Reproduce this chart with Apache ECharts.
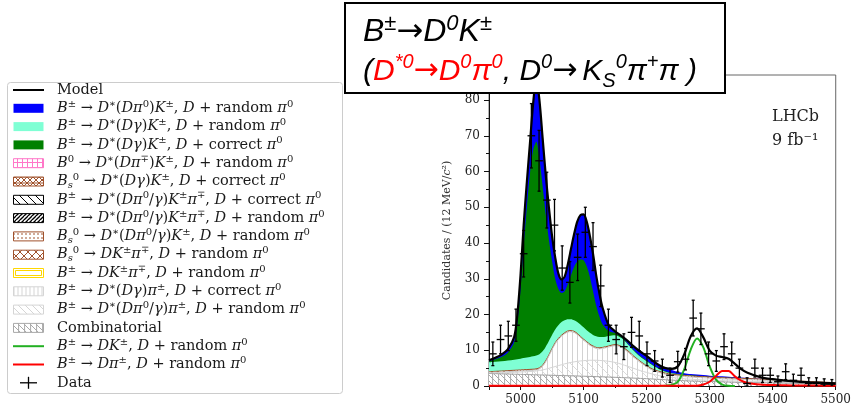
<!DOCTYPE html>
<html>
<head>
<meta charset="utf-8">
<script src="https://cdn.jsdelivr.net/npm/echarts@6/dist/echarts.min.js"></script>
<style>
  html, body { margin: 0; background: #fff; }
  #chart { width: 854px; height: 410px; }
</style>
</head>
<body>
<div id="chart"></div>
<script>
// ---- data ----
// fit components, cumulative tops (each band is drawn over the one above it)
const massGrid = [4950,4960,4970,4980,4990,4995,5000,5005,5010,5015,5020,5025,5030,5035,5040,5045,5050,5055,5060,5065,
  5070,5075,5080,5085,5090,5095,5100,5105,5110,5115,5120,5125,5130,5140,5150,5160,5170,5180,5190,5200,
  5210,5220,5230,5240,5250,5260,5270,5280,5290,5300,5310,5320,5330,5340,5350,5360,5380,5400,5420,5440,5460,5480,5500];

const blueTop = [7.2,7.9,8.8,10.3,13.8,20,31,45,57,68,79,86,80,69.5,59,50,42,36,31.5,29.8,
  30.6,34,38.3,42.5,46,47.8,48,46,42,37,31,26,22,17,15.3,14.0,12.6,11.0,9.6,8.4,
  7.0,5.8,5.0,4.5,3.9,3.6,3.35,3.2,3.05,2.9,2.8,2.7,2.6,2.5,2.4,2.3,2.0,1.75,1.5,1.3,1.1,0.95,0.8];

const greenTop = [6.9,7.5,8.2,9.4,12.3,17.5,27,39,50,59.5,66,68.3,63.5,56,48,41,35,30,27.2,26,
  26.5,28.5,31,33.3,34.8,35.4,35.2,33.5,30.5,26.5,22.5,19.5,17.3,15.4,14.8,13.7,11.9,10.0,8.4,7.1,
  5.9,4.9,4.1,3.65,3.35,3.15,3.0,2.85,2.7,2.6,2.5,2.4,2.3,2.25,2.2,2.1,1.9,1.7,1.5,1.3,1.1,0.95,0.8];

const cyanTop = [6.6,6.75,6.9,7.1,7.35,7.5,7.65,7.8,7.95,8.1,8.3,8.5,8.9,9.7,11.0,12.6,14.3,15.8,17.0,17.9,
  18.4,18.7,18.7,18.4,17.9,17.2,16.4,15.6,14.9,14.3,13.9,13.7,13.7,14.0,14.2,13.4,11.7,9.8,8.2,6.9,
  5.7,4.7,4.0,3.55,3.25,3.05,2.9,2.75,2.6,2.5,2.4,2.3,2.2,2.15,2.1,2.0,1.85,1.65,1.45,1.25,1.05,0.9,0.75];

const bsTop = [4.0,4.1,4.2,4.3,4.4,4.45,4.5,4.55,4.6,4.65,4.7,4.8,5.1,5.8,7.1,8.7,10.5,12.1,13.3,14.2,
  14.9,15.4,15.5,15.3,14.7,13.9,13.1,12.4,11.7,11.2,10.8,10.7,10.8,11.2,11.6,11.1,9.9,8.3,6.9,5.7,
  4.7,4.1,3.6,3.3,3.1,2.95,2.8,2.7,2.6,2.5,2.4,2.3,2.25,2.2,2.15,2.1,1.95,1.8,1.6,1.4,1.25,1.1,0.9];

const greyTop = [3.7,3.8,3.9,4.0,4.1,4.15,4.2,4.25,4.3,4.35,4.4,4.5,4.8,5.5,6.8,8.4,10.2,11.8,13.0,13.9,
  14.6,15.1,15.2,15.0,14.4,13.6,12.8,12.1,11.4,10.9,10.5,10.4,10.5,10.9,11.3,10.8,9.6,8.0,6.6,5.4,
  4.4,3.8,3.3,3.0,2.8,2.65,2.5,2.4,2.3,2.2,2.1,2.0,1.95,1.9,1.85,1.8,1.65,1.5,1.3,1.15,1.0,0.85,0.7];

const diagTop = [3.6,3.65,3.7,3.75,3.8,3.85,3.9,3.95,4.0,4.05,4.1,4.2,4.35,4.5,4.7,4.95,5.2,5.45,5.7,5.95,
  6.2,6.4,6.6,6.75,6.9,7.0,7.1,7.15,7.2,7.2,7.2,7.15,7.1,6.9,6.6,6.1,5.5,4.9,4.3,3.8,
  3.3,2.9,2.6,2.4,2.2,2.0,1.9,1.8,1.7,1.6,1.55,1.5,1.45,1.4,1.35,1.3,1.2,1.1,1.0,0.9,0.8,0.7,0.6];

const combTop = [3.5,3.45,3.4,3.35,3.3,3.28,3.25,3.22,3.2,3.18,3.15,3.12,3.1,3.07,3.05,3.02,3.0,2.97,2.95,2.92,
  2.9,2.87,2.85,2.82,2.8,2.77,2.74,2.71,2.68,2.65,2.62,2.59,2.56,2.5,2.43,2.36,2.28,2.2,2.12,2.05,
  1.95,1.85,1.75,1.65,1.55,1.47,1.4,1.35,1.3,1.25,1.2,1.15,1.1,1.05,1.0,0.97,0.92,0.87,0.8,0.72,0.65,0.58,0.5];

const dkCurve = [null,null,null,null,null,null,null,null,null,null,null,null,null,null,null,null,null,null,null,null,
  null,null,null,null,null,null,null,null,null,null,null,null,null,null,null,null,null,null,null,null,
  null,0,0.1,0.3,1.3,4.8,10.2,13.3,10.8,5.5,1.8,0.4,0.05,0,null,null,null,null,null,null,null,null,null];

const dpiCurve = [0.05,0.05,0.05,0.05,0.05,0.05,0.05,0.05,0.05,0.05,0.05,0.05,0.05,0.05,0.05,0.05,0.05,0.05,0.05,0.05,
  0.05,0.05,0.05,0.05,0.05,0.05,0.05,0.05,0.05,0.05,0.05,0.05,0.05,0.05,0.05,0.05,0.05,0.05,0.05,0.05,
  0.05,0.05,0.05,0.05,0.05,0.05,0.07,0.1,0.4,1.2,2.8,4.2,4.2,2.7,1.5,0.85,0.4,0.25,0.2,0.15,0.12,0.1,0.1];

const modelCurve = [7.2,7.9,8.8,10.3,13.8,20,31,45,57,68,79,86,80,69.5,59,50,42,36,31.5,29.8,
  30.6,34,38.3,42.5,46,47.8,48,46,42,37,31,26,22,17,15.3,14.0,12.6,11.0,9.6,8.4,
  7.0,5.8,5.0,4.8,5.6,9.0,13.9,16.1,13.6,9.9,8.5,8.1,7.6,6.2,4.7,3.7,2.5,1.9,1.5,1.2,1.0,0.85,0.75];

// data points (45 bins of ~12.2 MeV)
const binCenters = [4956.1,4968.3,4980.6,4992.8,5005.0,5017.2,5029.4,5041.7,5053.9,5066.1,5078.3,5090.6,5102.8,5115.0,5127.2,
  5139.4,5151.7,5163.9,5176.1,5188.3,5200.6,5212.8,5225.0,5237.2,5249.4,5261.7,5273.9,5286.1,5298.3,5310.6,
  5322.8,5335.0,5347.2,5359.4,5371.7,5383.9,5396.1,5408.3,5420.6,5432.8,5445.0,5457.2,5469.4,5481.7,5493.9];
const binHalfWidth = 6.1;
const counts = [9,13,14,17,37,70,63,52,45,33,29,36,43,39,28,
  17,13,11,15,14,9,7,5,3,6.8,7.5,19,16,9,7,
  11,9,5,0.7,5,3,3,1.2,4,1.6,3,0.7,0.7,0.5,0.5];
const countErr = [3.3,4.0,4.1,4.5,6.5,9.0,8.5,7.8,7.2,6.2,5.8,6.5,7.0,6.7,5.8,
  4.5,4.0,3.6,4.2,4.1,3.3,2.9,2.5,2.0,2.9,3.0,5.0,4.4,3.3,2.9,
  3.6,3.3,2.5,1.6,2.5,2.0,2.0,1.6,2.2,1.7,2.0,1.6,1.6,1.5,1.3];

const yTicks = { min: 0, max: 87, step: 10 };

// ---- hatch patterns ----
function hatch(size, bg, stroke, lw, segs, dots) {
  const c = document.createElement('canvas');
  c.width = size; c.height = size;
  const g = c.getContext('2d');
  if (bg) { g.fillStyle = bg; g.fillRect(0, 0, size, size); }
  g.strokeStyle = stroke; g.lineWidth = lw;
  segs.forEach(s => {
    g.beginPath();
    g.moveTo(s[0] * size, s[1] * size);
    g.lineTo(s[2] * size, s[3] * size);
    g.stroke();
  });
  if (dots) { g.fillStyle = stroke; g.fillRect(size / 2 - 0.7, size / 2 - 0.7, 1.4, 1.4); }
  return { image: c, repeat: 'repeat' };
}
const patVert = hatch(5, '#fff', '#d2d2d2', 1, [[0.5, 0, 0.5, 1]]);
const patDiag = hatch(9, null, '#dadada', 1, [[0, 0, 1, 1], [-0.5, 0.5, 0, 1], [0.5, -0.5, 1.5, 0.5]]);
const patComb = hatch(6, '#fff', '#a9a9a9', 1, [[0.1, 0, 0.1, 1], [0, 0, 1, 1]]);
const patBs = hatch(6, '#fff', '#a0522d', 1, [[0, 0, 1, 1], [1, 0, 0, 1], [0, 0.5, 1, 0.5]]);
const patPink = hatch(5, '#fff', '#ff77c8', 1, [[0.5, 0, 0.5, 1], [0, 0.5, 1, 0.5]]);
const patBack = hatch(8, '#fff', '#000', 1, [[0, 0, 1, 1], [-0.5, 0.5, 0, 1], [0.5, -0.5, 1.5, 0.5]]);
const patFwd = hatch(4, '#fff', '#000', 1.3, [[0, 1, 1, 0], [-0.5, 0.5, 0, 0], [0.5, 1.5, 1.5, 0.5]]);
const patDots = hatch(4, '#fff', '#a0522d', 1, [], true);
const patX = hatch(8, '#fff', '#a0522d', 1, [[0, 0, 1, 1], [1, 0, 0, 1]]);
const patVertL = hatch(4, '#fff', '#d5d5d5', 1, [[0.5, 0, 0.5, 1]]);
const patDiagL = hatch(7, '#fff', '#d5d5d5', 1, [[0, 0, 1, 1], [-0.5, 0.5, 0, 1], [0.5, -0.5, 1.5, 0.5]]);

function zip(ys) { return massGrid.map((m, i) => [m, ys[i]]); }

function band(name, ys, fill, edge, edgeW) {
  return {
    name: name, type: 'line', data: zip(ys), symbol: 'none', smooth: 0.3,
    lineStyle: { color: edge || 'transparent', width: edgeW || 0 },
    areaStyle: { color: fill, opacity: 1 },
    silent: true
  };
}
function curve(name, ys, color, w) {
  return {
    name: name, type: 'line', data: zip(ys), symbol: 'none', smooth: 0.3,
    connectNulls: false, lineStyle: { color: color, width: w }, silent: true
  };
}

const points = binCenters.map((m, i) => [m, counts[i], countErr[i]]);

// ---- legend text, LaTeX-like ----
function tex(src) {
  let out = '', cur = null, buf = '', math = false;
  const flush = () => { if (buf) out += '{' + cur + '|' + buf + '}'; buf = ''; };
  const add = (st, t) => { if (st !== cur) { flush(); cur = st; } buf += t; };
  for (let i = 0; i < src.length; i++) {
    const c = src[i];
    if (c === '$') { math = !math; continue; }
    if (math && (c === '^' || c === '_')) {
      const end = src.indexOf('}', i);
      add(c === '^' ? 'sup' : 'sub', src.slice(i + 2, end));
      i = end; continue;
    }
    add(math && /[A-Za-z\u03b1-\u03c9]/.test(c) ? 'it' : 'rm', c);
  }
  flush();
  return out;
}

const legendRows = [
  { t: 'Model', k: 'line', c: '#000', w: 2 },
  { t: '$B^{±} → D^{∗}(Dπ^{0})K^{±}, D$ + random $π^{0}$', k: 'rect', f: '#0000ff' },
  { t: '$B^{±} → D^{∗}(Dγ)K^{±}, D$ + random $π^{0}$', k: 'rect', f: '#7fffd4' },
  { t: '$B^{±} → D^{∗}(Dγ)K^{±}, D$ + correct $π^{0}$', k: 'rect', f: '#008000' },
  { t: '$B^{0} → D^{∗}(Dπ^{∓})K^{±}, D$ + random $π^{0}$', k: 'rect', f: patPink, s: '#ff77c8' },
  { t: '$B_{s}^{0} → D^{∗}(Dγ)K^{±}, D$ + correct $π^{0}$', k: 'rect', f: patBs, s: '#a0522d' },
  { t: '$B^{±} → D^{∗}(Dπ^{0}/γ)K^{±}π^{∓}, D$ + correct $π^{0}$', k: 'rect', f: patBack, s: '#000' },
  { t: '$B^{±} → D^{∗}(Dπ^{0}/γ)K^{±}π^{∓}, D$ + random $π^{0}$', k: 'rect', f: patFwd, s: '#000' },
  { t: '$B_{s}^{0} → D^{∗}(Dπ^{0}/γ)K^{±}, D$ + random $π^{0}$', k: 'rect', f: patDots, s: '#a0522d' },
  { t: '$B_{s}^{0} → DK^{±}π^{∓}, D$ + random $π^{0}$', k: 'rect', f: patX, s: '#a0522d' },
  { t: '$B^{±} → DK^{±}π^{∓}, D$ + random $π^{0}$', k: 'yellow' },
  { t: '$B^{±} → D^{∗}(Dγ)π^{±}, D$ + correct $π^{0}$', k: 'rect', f: patVertL, s: '#d5d5d5' },
  { t: '$B^{±} → D^{∗}(Dπ^{0}/γ)π^{±}, D$ + random $π^{0}$', k: 'rect', f: patDiagL, s: '#d5d5d5' },
  { t: 'Combinatorial', k: 'rect', f: patComb, s: '#a9a9a9' },
  { t: '$B^{±} → DK^{±}, D$ + random $π^{0}$', k: 'line', c: '#22b022', w: 2 },
  { t: '$B^{±} → Dπ^{±}, D$ + random $π^{0}$', k: 'line', c: '#ff0000', w: 2 },
  { t: 'Data', k: 'cross' }
];

const serif = 'DejaVu Serif';
const legendRich = {
  rm: { fontFamily: serif, fontSize: 14.5, fill: '#1a1a1a', lineHeight: 18, verticalAlign: 'middle' },
  it: { fontFamily: serif, fontSize: 14.5, fontStyle: 'italic', fill: '#1a1a1a', lineHeight: 18, verticalAlign: 'middle' },
  sup: { fontFamily: serif, fontSize: 10, fill: '#1a1a1a', lineHeight: 10, verticalAlign: 'top' },
  sub: { fontFamily: serif, fontSize: 10, fontStyle: 'italic', fill: '#1a1a1a', lineHeight: 10, verticalAlign: 'bottom' }
};

const legendItems = [{
  type: 'rect', shape: { x: 7.5, y: 82.5, width: 335, height: 311, r: 3 },
  style: { fill: '#fff', stroke: '#cccccc', lineWidth: 1 }
}];
legendRows.forEach((row, k) => {
  const cy = 90 + k * 18.3;
  if (row.k === 'line') {
    legendItems.push({ type: 'line', shape: { x1: 13, y1: cy, x2: 44, y2: cy }, style: { stroke: row.c, lineWidth: row.w } });
  } else if (row.k === 'rect') {
    legendItems.push({ type: 'rect', shape: { x: 13.5, y: cy - 4.5, width: 30, height: 9 },
      style: { fill: row.f, stroke: row.s || null, lineWidth: row.s ? 1 : 0 } });
  } else if (row.k === 'yellow') {
    legendItems.push({ type: 'rect', shape: { x: 13.5, y: cy - 4.5, width: 30, height: 9 }, style: { fill: '#fff', stroke: '#ffd700', lineWidth: 1 } });
    legendItems.push({ type: 'rect', shape: { x: 15.5, y: cy - 2.5, width: 26, height: 5 }, style: { fill: 'none', stroke: '#ffd700', lineWidth: 1 } });
  } else if (row.k === 'cross') {
    legendItems.push({ type: 'line', shape: { x1: 20, y1: cy, x2: 37, y2: cy }, style: { stroke: '#000', lineWidth: 1.3 } });
    legendItems.push({ type: 'line', shape: { x1: 28.5, y1: cy - 6, x2: 28.5, y2: cy + 6 }, style: { stroke: '#000', lineWidth: 1.3 } });
  }
  legendItems.push({ type: 'text', x: 57, y: cy,
    style: { text: tex(row.t), rich: legendRich, font: '14.5px "DejaVu Serif"', fill: '#1a1a1a', verticalAlign: 'middle' } });
});

const sans = 'Liberation Sans';
function tStyle(size, color, lh, va, family, upright) {
  const s = { fontFamily: family || sans, fontStyle: upright ? 'normal' : 'italic', fontWeight: 'normal',
    fontSize: size, color: color, lineHeight: lh };
  if (va) s.verticalAlign = va;
  return s;
}

const chart = echarts.init(document.getElementById('chart'));
chart.setOption({
  animation: false,
  backgroundColor: '#fff',
  title: {
    text: '{a|B}{as|±}{ar|→}{a|D}{as|0}{a|K}{as|±}\n' +
          '{b|(}{br|D}{bsr|*0}{brr|→}{br|D}{bsr|0}{br|π}{bsr|0}{b|, D}{bs|0}{bar|→} {b|K}{bsub|S}{bs|0}{b|π}{bs|+}{b|π )}',
    left: 345, top: 3,
    padding: [10, 28, 2, 18],
    backgroundColor: '#fff', borderColor: '#000', borderWidth: 2,
    textStyle: {
      fontWeight: 'normal',
      rich: {
        a: tStyle(32, '#000', 39),
        ar: tStyle(32, '#000', 39, null, 'DejaVu Sans', true),
        as: tStyle(22, '#000', 22, 'top'),
        b: tStyle(30, '#000', 39),
        br: tStyle(30, '#ff0000', 39),
        brr: tStyle(30, '#ff0000', 39, null, 'DejaVu Sans', true),
        bar: tStyle(30, '#000', 39, null, 'DejaVu Sans', true),
        bs: tStyle(20, '#000', 22, 'top'),
        bsr: tStyle(20, '#ff0000', 22, 'top'),
        bsub: tStyle(20, '#000', 20, 'bottom')
      }
    }
  },
  grid: { left: 489, right: 13, top: 75, bottom: 24, show: true, borderColor: '#666', borderWidth: 1 },
  xAxis: {
    type: 'value', min: 4950, max: 5500,
    axisLine: { show: true, lineStyle: { color: '#111', width: 1 } },
    axisTick: { show: true, inside: false, length: 4, lineStyle: { color: '#111' } },
    minorTick: { show: true, splitNumber: 2, length: 2, lineStyle: { color: '#111' } },
    axisLabel: { showMinLabel: false, fontFamily: serif, fontSize: 12, color: '#222', margin: 8,
      formatter: v => String(v) },
    splitLine: { show: false }
  },
  yAxis: {
    type: 'value', min: yTicks.min, max: yTicks.max, interval: yTicks.step,
    name: 'Candidates / (12 MeV/{it|c}²)', nameLocation: 'middle', nameGap: 36,
    nameTextStyle: { fontFamily: serif, fontSize: 11, color: '#333',
      rich: { it: { fontFamily: serif, fontStyle: 'italic', fontSize: 11, color: '#333' } } },
    axisLine: { show: true, lineStyle: { color: '#111', width: 1 } },
    axisTick: { show: true, inside: false, length: 5, lineStyle: { color: '#111' } },
    minorTick: { show: true, splitNumber: 2, length: 3, lineStyle: { color: '#111' } },
    axisLabel: { showMaxLabel: false, fontFamily: serif, fontSize: 12, color: '#222', margin: 9 },
    splitLine: { show: false }
  },
  series: [
    band('B± → D*(Dπ0)K±, D + random π0', blueTop, '#0000ff'),
    band('B± → D*(Dγ)K±, D + correct π0', greenTop, '#008000'),
    band('B± → D*(Dγ)K±, D + random π0', cyanTop, '#7fffd4'),
    band('Bs0 → D*(Dγ)K±, D + correct π0', bsTop, patBs, '#a0522d', 1),
    band('B± → D*(Dγ)π±, D + correct π0', greyTop, patVert, '#c8c8c8', 1),
    band('B± → D*(Dπ0/γ)π±, D + random π0', diagTop, patDiag, '#d6d6d6', 1),
    band('Combinatorial', combTop, patComb, '#a0a0a0', 1),
    curve('B± → DK±, D + random π0', dkCurve, '#22b022', 2),
    curve('B± → Dπ±, D + random π0', dpiCurve, '#ff0000', 2),
    curve('Model', modelCurve, '#000', 2.2),
    {
      name: 'Data', type: 'custom', data: points, clip: true, silent: true, z: 5,
      renderItem: function (params, api) {
        const x = api.value(0), y = api.value(1), e = api.value(2);
        const lo = api.coord([x, Math.max(0, y - e)]);
        const hi = api.coord([x, y + e]);
        const l = api.coord([x - binHalfWidth, y]);
        const r = api.coord([x + binHalfWidth, y]);
        const st = { stroke: '#000', lineWidth: 1.3 };
        return {
          type: 'group', children: [
            { type: 'line', shape: { x1: lo[0], y1: lo[1], x2: hi[0], y2: hi[1] }, style: st },
            { type: 'line', shape: { x1: l[0], y1: l[1], x2: r[0], y2: r[1] }, style: st },
            { type: 'line', shape: { x1: hi[0] - 1.5, y1: hi[1], x2: hi[0] + 1.5, y2: hi[1] }, style: st },
            { type: 'line', shape: { x1: lo[0] - 1.5, y1: lo[1], x2: lo[0] + 1.5, y2: lo[1] }, style: st }
          ]
        };
      }
    }
  ],
  graphic: [
    { type: 'group', z: 100, children: legendItems },
    { type: 'text', x: 772, y: 117, z: 50, style: { text: 'LHCb', font: '16px "DejaVu Serif"', fill: '#222', verticalAlign: 'middle' } },
    { type: 'text', x: 772, y: 141, z: 50, style: { text: '9 fb⁻¹', font: '16px "DejaVu Serif"', fill: '#222', verticalAlign: 'middle' } }
  ]
});
</script>
</body>
</html>
